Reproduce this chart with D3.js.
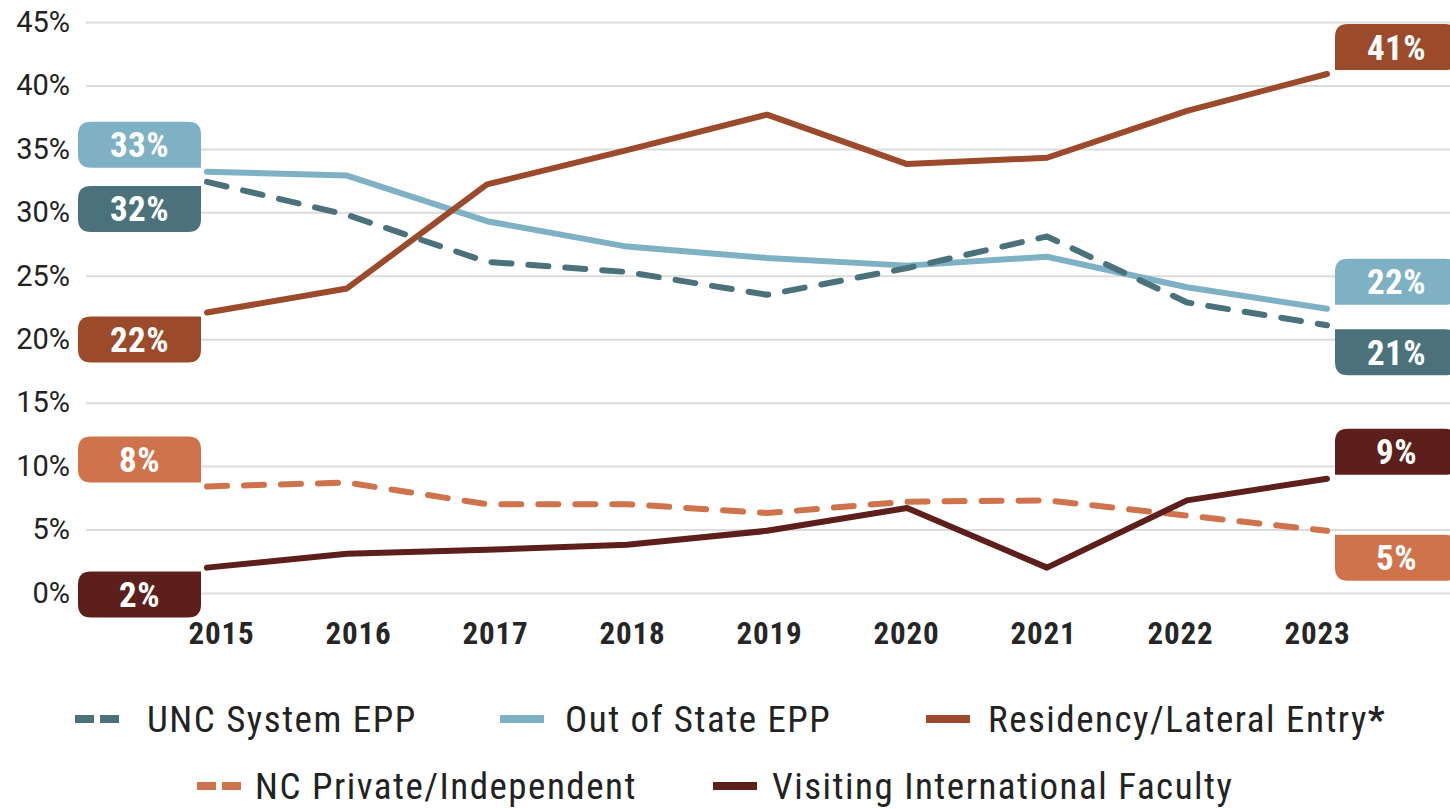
<!DOCTYPE html>
<html>
<head>
<meta charset="utf-8">
<script src="https://cdn.jsdelivr.net/npm/d3@7"></script>
<style>
  html, body { margin: 0; padding: 0; background: #fff; }
  svg { display: block; }
  .narrow { font-family: "Liberation Sans Narrow", "Roboto Condensed", "Arial Narrow", sans-serif; }
  .roboto { font-family: Roboto, "Liberation Sans", sans-serif; }
</style>
</head>
<body>
<div id="chart"></div>
<script>
// data
const years = [2015, 2016, 2017, 2018, 2019, 2020, 2021, 2022, 2023];
const uncSystem = [32.4, 29.8, 26.1, 25.3, 23.5, 25.6, 28.1, 22.9, 21.1];
const outOfState = [33.2, 32.9, 29.3, 27.3, 26.4, 25.8, 26.5, 24.1, 22.4];
const residency = [22.1, 24.0, 32.2, 34.9, 37.7, 33.8, 34.3, 38.0, 40.9];
const ncPrivate = [8.4, 8.7, 7.0, 7.0, 6.3, 7.2, 7.3, 6.1, 4.9];
const visiting = [2.0, 3.1, 3.4, 3.8, 4.9, 6.7, 2.0, 7.3, 9.0];
const yTicks = [0, 5, 10, 15, 20, 25, 30, 35, 40, 45];

const series = [
    { name: "Out of State EPP", values: outOfState, color: "#7eb1c4", dashed: false, start: "above", end: "above" },
    { name: "Residency/Lateral Entry", values: residency, color: "#9b4a2c", dashed: false, start: "below", end: "above" },
    { name: "UNC System EPP", values: uncSystem, color: "#4b727b", dashed: true, start: "below", end: "below" },
    { name: "NC Private/Independent", values: ncPrivate, color: "#cf734d", dashed: true, start: "above", end: "below" },
    { name: "Visiting International Faculty", values: visiting, color: "#5c1f1c", dashed: false, start: "below", end: "above" }
];

const W = 1450, H = 809;
const svg = d3.select("#chart").append("svg").attr("width", W).attr("height", H);

const x = d3.scalePoint().domain(years).range([207, 1327]);
const xLabels = d3.scalePoint().domain(years).range([221, 1317]);
const y = d3.scaleLinear().domain([0, 45]).range([593, 22]);

// gridlines + y labels
const yAxis = svg.append("g")
    .attr("transform", "translate(86,0)")
    .call(d3.axisLeft(y).tickValues(yTicks).tickSize(-(W - 86)).tickPadding(16).tickFormat(d => d + "%"));
yAxis.select(".domain").remove();
yAxis.selectAll("line").attr("stroke", "#dcdcdc").attr("stroke-width", 2);
yAxis.selectAll("text")
    .attr("class", "roboto")
    .attr("font-size", 29)
    .attr("fill", "#222");

// x labels
const xAxis = svg.append("g")
    .attr("transform", "translate(0,622)")
    .call(d3.axisBottom(xLabels).tickSize(0).tickPadding(0));
xAxis.select(".domain").remove();
xAxis.selectAll("text")
    .attr("class", "narrow")
    .attr("font-size", 31)
    .attr("font-weight", "bold")
    .attr("letter-spacing", 0.8)
    .attr("fill", "#262626");

// lines
const line = d3.line()
    .x((d, i) => x(years[i]))
    .y(d => y(d));

svg.append("g").selectAll("path")
    .data(series)
    .enter()
    .append("path")
    .attr("d", d => line(d.values))
    .attr("fill", "none")
    .attr("stroke", d => d.color)
    .attr("stroke-width", 6)
    .attr("stroke-linecap", "round")
    .attr("stroke-linejoin", "round")
    .attr("stroke-dasharray", d => d.dashed ? "20,17" : null);

// rounded box with one square corner pointing at the line
function boxPath(x0, y0, w, h, r, sq) {
    const rr = c => c === sq ? 0 : r;
    const tl = rr("tl"), tr = rr("tr"), br = rr("br"), bl = rr("bl");
    return `M${x0 + tl},${y0}` +
        `H${x0 + w - tr}` + (tr ? `Q${x0 + w},${y0} ${x0 + w},${y0 + tr}` : "") +
        `V${y0 + h - br}` + (br ? `Q${x0 + w},${y0 + h} ${x0 + w - br},${y0 + h}` : "") +
        `H${x0 + bl}` + (bl ? `Q${x0},${y0 + h} ${x0},${y0 + h - bl}` : "") +
        `V${y0 + tl}` + (tl ? `Q${x0},${y0} ${x0 + tl},${y0}` : "") + "Z";
}

const boxW = 123, boxH = 46, gap = 4;
const labels = [];
series.forEach(s => {
    labels.push({ s: s, side: "left", pos: s.start, v: s.values[0] });
    labels.push({ s: s, side: "right", pos: s.end, v: s.values[s.values.length - 1] });
});

const lab = svg.append("g").selectAll("g")
    .data(labels)
    .enter()
    .append("g");

lab.each(function (d) {
    const g = d3.select(this);
    const yv = y(d.v);
    const bx = d.side === "left" ? 78 : 1335;
    const by = d.pos === "above" ? yv - gap - boxH : yv + gap;
    let sq;
    if (d.side === "left") sq = d.pos === "above" ? "br" : "tr";
    else sq = d.pos === "above" ? "bl" : "tl";
    g.append("path")
        .attr("d", boxPath(bx, by, boxW, boxH, 13, sq))
        .attr("fill", d.s.color);
    g.append("text")
        .attr("class", "narrow")
        .attr("x", bx + boxW / 2)
        .attr("y", by + boxH / 2)
        .attr("dy", "0.36em")
        .attr("text-anchor", "middle")
        .attr("font-size", 35)
        .attr("font-weight", "bold")
        .attr("letter-spacing", 0.5)
        .attr("fill", "#fff")
        .text(Math.round(d.v) + "%");
});

// legend
const legendItems = [
    { s: series[2], mx: 75, tx: 147, ty: 719 },
    { s: series[0], mx: 500, tx: 565, ty: 719 },
    { s: series[1], mx: 926, tx: 988, ty: 719, star: true },
    { s: series[3], mx: 197, tx: 255, ty: 786 },
    { s: series[4], mx: 713, tx: 772, ty: 786 }
];

const leg = svg.append("g").selectAll("g")
    .data(legendItems)
    .enter()
    .append("g");

leg.each(function (d) {
    const g = d3.select(this);
    if (d.s.dashed) {
        g.append("rect").attr("x", d.mx).attr("y", d.ty - 4).attr("width", 19).attr("height", 8).attr("fill", d.s.color);
        g.append("rect").attr("x", d.mx + 25).attr("y", d.ty - 4).attr("width", 19).attr("height", 8).attr("fill", d.s.color);
    } else {
        g.append("rect").attr("x", d.mx).attr("y", d.ty - 4).attr("width", 44).attr("height", 8).attr("fill", d.s.color);
    }
    const t = g.append("text")
        .attr("class", "narrow")
        .attr("x", d.tx)
        .attr("y", d.ty)
        .attr("dy", "0.36em")
        .attr("font-size", 37)
        .attr("letter-spacing", 1.5)
        .attr("fill", "#222")
        .text(d.s.name);
    if (d.star) t.append("tspan").attr("font-weight", "bold").text("*");
});
</script>
</body>
</html>
